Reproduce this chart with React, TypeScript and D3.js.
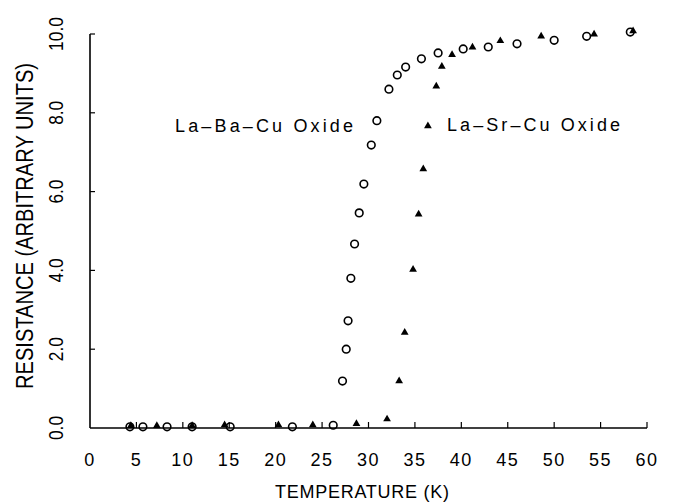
import React from "react";
import * as d3 from "d3";

// La-Ba-Cu oxide (open circles)
const baTemp = [4.3, 5.7, 8.3, 11.0, 15.1, 21.8, 26.2, 27.2, 27.6, 27.8, 28.1, 28.5, 29.0, 29.5, 30.3, 30.9, 32.2, 33.1, 34.0, 35.7, 37.5, 40.2, 42.9, 46.0, 50.0, 53.5, 58.2];
const baRes = [0.03, 0.03, 0.03, 0.03, 0.03, 0.03, 0.07, 1.19, 2.0, 2.72, 3.8, 4.67, 5.46, 6.19, 7.18, 7.8, 8.6, 8.96, 9.16, 9.37, 9.52, 9.62, 9.67, 9.75, 9.84, 9.94, 10.05];

// La-Sr-Cu oxide (filled triangles)
const srTemp = [4.4, 7.2, 11.0, 14.5, 20.3, 24.0, 28.7, 32.0, 33.3, 33.9, 34.8, 35.4, 35.9, 36.4, 37.3, 37.9, 39.0, 41.2, 44.2, 48.6, 54.3, 58.5];
const srRes = [0.03, 0.03, 0.03, 0.05, 0.05, 0.05, 0.08, 0.2, 1.17, 2.4, 4.0, 5.4, 6.55, 7.64, 8.65, 9.15, 9.45, 9.64, 9.8, 9.92, 9.97, 10.05];

const xTicks = [0, 5, 10, 15, 20, 25, 30, 35, 40, 45, 50, 55, 60];
const yTicks = [0, 2, 4, 6, 8, 10];

const W = 694;
const H = 502;
const font = "'Liberation Sans', Arial, sans-serif";

export default function App() {
  const x = d3.scaleLinear().domain([0, 60]).range([90, 647]);
  const y = d3.scaleLinear().domain([0, 10]).range([428, 34]);

  const tri = d3.symbol().type(d3.symbolTriangle).size(26)();

  return (
    <svg
      width={W}
      height={H}
      style={{ position: "absolute", left: 0, top: 0, background: "#fff" }}
    >
      {/* axes */}
      <line x1={x(0)} x2={x(0)} y1={y(0)} y2={y(10)} stroke="#000" strokeWidth={1.6} />
      <line x1={x(0)} x2={x(60)} y1={y(0)} y2={y(0)} stroke="#000" strokeWidth={1.6} />
      {xTicks.filter((t) => t > 0).map((t) => (
        <line key={"xt" + t} x1={x(t)} x2={x(t)} y1={y(0)} y2={y(0) - 6} stroke="#000" strokeWidth={1.2} />
      ))}
      {yTicks.filter((t) => t > 0).map((t) => (
        <line key={"yt" + t} x1={x(0)} x2={x(0) + 5} y1={y(t)} y2={y(t)} stroke="#000" strokeWidth={1.2} />
      ))}

      {/* tick labels */}
      {xTicks.map((t) => (
        <text key={"xl" + t} x={x(t)} y={466} textAnchor="middle" fontFamily={font} fontSize={18} letterSpacing={1.5} fill="#000">
          {t}
        </text>
      ))}
      {yTicks.map((t) => (
        <text
          key={"yl" + t}
          transform={"translate(63," + y(t) + ") rotate(-90)"}
          textAnchor="middle"
          fontFamily={font}
          fontSize={21}
          textLength={t >= 10 ? 34 : 24}
          lengthAdjust="spacingAndGlyphs"
          fill="#000"
        >
          {t.toFixed(1)}
        </text>
      ))}

      {/* axis titles */}
      <text x={362} y={498} textAnchor="middle" fontFamily={font} fontSize={18} textLength={174} lengthAdjust="spacing">
        TEMPERATURE (K)
      </text>
      <text
        transform="translate(33,226) rotate(-90)"
        textAnchor="middle"
        fontFamily={font}
        fontSize={23}
        textLength={326}
        lengthAdjust="spacingAndGlyphs"
      >
        RESISTANCE (ARBITRARY UNITS)
      </text>

      {/* labels */}
      <text x={175} y={132} fontFamily={font} fontSize={18} textLength={178} lengthAdjust="spacing">
        La–Ba–Cu Oxide
      </text>
      <text x={447} y={131} fontFamily={font} fontSize={18} textLength={173} lengthAdjust="spacing">
        La–Sr–Cu Oxide
      </text>

      {/* data */}
      {baTemp.map((t, i) => (
        <circle key={"c" + i} cx={x(t)} cy={y(baRes[i])} r={3.8} fill="none" stroke="#000" strokeWidth={1.6} />
      ))}
      {srTemp.map((t, i) => (
        <path key={"t" + i} d={tri} transform={"translate(" + x(t) + "," + (y(srRes[i]) - 1) + ")"} fill="#000" />
      ))}
    </svg>
  );
}
